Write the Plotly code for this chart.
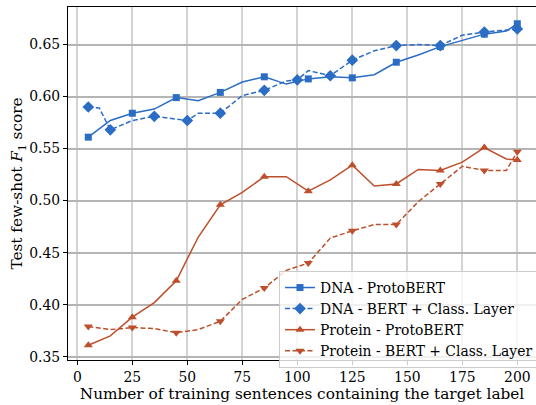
import plotly.graph_objects as go

# ---- data ----
x_dna_proto = [5, 15, 25, 35, 45, 55, 65, 75, 85, 95, 105, 115, 125, 135, 145, 155, 165, 175, 185, 195, 200]
y_dna_proto = [0.561, 0.577, 0.584, 0.588, 0.599, 0.596, 0.604, 0.614, 0.619, 0.612, 0.617, 0.619, 0.618, 0.621, 0.633, 0.640, 0.648, 0.654, 0.660, 0.663, 0.670]
mark_dna_proto = [5, 25, 45, 65, 85, 105, 125, 145, 165, 185, 200]

x_dna_bert = [5, 10, 15, 25, 35, 50, 55, 65, 75, 85, 95, 100, 105, 115, 125, 135, 145, 155, 165, 175, 185, 195, 200]
y_dna_bert = [0.590, 0.589, 0.568, 0.577, 0.581, 0.577, 0.584, 0.584, 0.601, 0.606, 0.615, 0.616, 0.625, 0.620, 0.635, 0.644, 0.649, 0.650, 0.649, 0.659, 0.662, 0.664, 0.665]
mark_dna_bert = [5, 15, 35, 50, 65, 85, 100, 115, 125, 145, 165, 185, 200]

x_prot_proto = [5, 15, 25, 35, 45, 55, 65, 75, 85, 95, 105, 115, 125, 135, 145, 155, 165, 175, 185, 195, 200]
y_prot_proto = [0.361, 0.370, 0.388, 0.402, 0.423, 0.465, 0.496, 0.508, 0.523, 0.523, 0.509, 0.520, 0.534, 0.514, 0.516, 0.530, 0.529, 0.537, 0.551, 0.540, 0.539]
mark_prot_proto = [5, 25, 45, 65, 85, 105, 125, 145, 165, 185, 200]

x_prot_bert = [5, 15, 25, 35, 45, 55, 65, 75, 85, 95, 105, 115, 125, 135, 145, 155, 165, 175, 185, 195, 200]
y_prot_bert = [0.379, 0.376, 0.378, 0.377, 0.373, 0.376, 0.384, 0.405, 0.416, 0.433, 0.440, 0.464, 0.471, 0.477, 0.477, 0.499, 0.516, 0.533, 0.529, 0.529, 0.547]
mark_prot_bert = [5, 25, 45, 65, 85, 105, 125, 145, 165, 185, 200]

names = ["DNA - ProtoBERT", "DNA - BERT + Class. Layer",
         "Protein - ProtoBERT", "Protein - BERT + Class. Layer"]
x_ticks = [0, 25, 50, 75, 100, 125, 150, 175, 200]
y_ticks = [0.35, 0.40, 0.45, 0.50, 0.55, 0.60, 0.65]

BLUE = "#2b6cc4"
RED = "#bd4f2c"
FONT = "DejaVu Serif"

series = [
    (x_dna_proto, y_dna_proto, mark_dna_proto, names[0], BLUE, "solid", "square", 7),
    (x_dna_bert, y_dna_bert, mark_dna_bert, names[1], BLUE, "5px,2.5px", "diamond", 9),
    (x_prot_proto, y_prot_proto, mark_prot_proto, names[2], RED, "solid", "triangle-up", 8),
    (x_prot_bert, y_prot_bert, mark_prot_bert, names[3], RED, "5px,2.5px", "triangle-down", 8),
]

fig = go.Figure()
for xs, ys, marks, name, color, dash, sym, ms in series:
    lookup = dict(zip(xs, ys))
    fig.add_trace(go.Scatter(x=xs, y=ys, mode="lines", legendgroup=name, showlegend=False,
                             line=dict(color=color, width=1.5, dash=dash), hoverinfo="skip"))
    fig.add_trace(go.Scatter(x=marks, y=[lookup[m] for m in marks], mode="markers",
                             legendgroup=name, showlegend=False,
                             marker=dict(symbol=sym, size=ms, color=color, line=dict(width=0))))
    fig.add_trace(go.Scatter(x=[None], y=[None], mode="lines+markers", name=name, legendgroup=name,
                             line=dict(color=color, width=1.5, dash=dash),
                             marker=dict(symbol=sym, size=ms, color=color, line=dict(width=0))))

L, T, B = 68, 7, 45
W, H = 536, 405
PH = H - T - B

fig.update_layout(
    width=W, height=H,
    margin=dict(l=L, r=0, t=T, b=B, autoexpand=False),
    paper_bgcolor="white", plot_bgcolor="white",
    font=dict(family=FONT, size=13.9, color="black"),
    legend=dict(x=(279 - L) / (W - L), y=(H - B - 271) / PH, xanchor="left", yanchor="top",
                bgcolor="rgba(255,255,255,0.8)", bordercolor="#cccccc", borderwidth=1,
                font=dict(family=FONT, size=13.9), tracegroupgap=0, itemwidth=30),
    xaxis=dict(range=[-4.23, 208.5], tickvals=x_ticks, ticktext=[str(v) for v in x_ticks],
               showgrid=True, gridcolor="#d3d3d3", gridwidth=2,
               showline=True, linecolor="black", linewidth=1.2, mirror=True,
               ticks="outside", ticklen=4, tickcolor="black", zeroline=False,
               tickfont=dict(family=FONT, size=13.9),
               title=dict(text="Number of training sentences containing the target label",
                          font=dict(family=FONT, size=15.3), standoff=0)),
    yaxis=dict(range=[0.3468, 0.6861], tickvals=y_ticks, ticktext=[f"{v:.2f}" for v in y_ticks],
               showgrid=True, gridcolor="#b5b5b5", gridwidth=1.5,
               showline=True, linecolor="black", linewidth=1.2, mirror=False,
               ticks="outside", ticklen=4, tickcolor="black", zeroline=False,
               tickfont=dict(family=FONT, size=13.9),
               title=dict(text="Test few-shot <i>F</i><sub>1</sub> score",
                          font=dict(family=FONT, size=15.3), standoff=2)),
)

fig.write_html("out.html", config={"displayModeBar": False},
               post_script="document.body.style.margin='0';")
